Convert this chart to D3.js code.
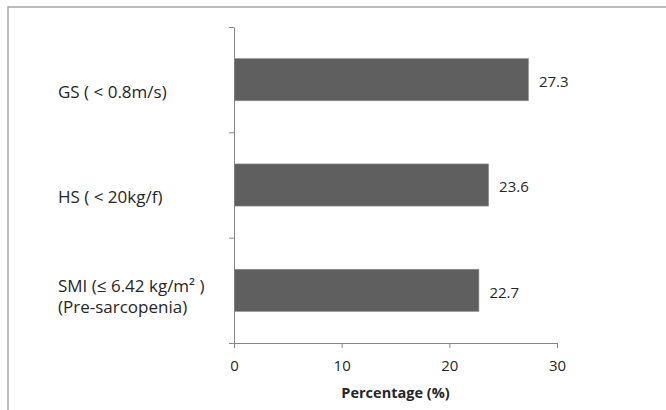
<!DOCTYPE html>
<html>
<head>
<meta charset="utf-8">
<script src="https://cdn.jsdelivr.net/npm/d3@7"></script>
<style>
	body { margin: 0; background: #fff; }
	svg { display: block; font-family: "Open Sans", "Liberation Sans", sans-serif; }
</style>
</head>
<body>
<div id="chart"></div>
<script>
const W = 666, H = 410;

// data
const categories = ["GS", "HS", "SMI"];
const catLines = [
	["GS ( < 0.8m/s)"],
	["HS ( < 20kg/f)"],
	["SMI (\u2264 6.42 kg/m\u00B2 )", "(Pre-sarcopenia)"]
];
const values = [27.3, 23.6, 22.7];
const xTicks = [0, 10, 20, 30];
const xTitle = "Percentage (%)";

const plot = { left: 234, right: 557, top: 27, bottom: 343 };
const fs = "15px";

const svg = d3.select("#chart").append("svg")
	.attr("width", W)
	.attr("height", H);

// outer frame (only top + left visible in the crop)
svg.append("path")
	.attr("d", `M8,${H} V7 H${W}`)
	.attr("fill", "none")
	.attr("stroke", "#a6a6a6")
	.attr("stroke-width", 1.5);

const x = d3.scaleLinear().domain([0, 30]).range([plot.left, plot.right]);

const y = d3.scaleBand()
	.domain(categories)
	.range([plot.top, plot.bottom])
	.paddingInner(0.6)
	.paddingOuter(0.3);

// tick marks sit on the category boundaries
const yEdge = d3.scaleLinear().domain([0, categories.length]).range([plot.top, plot.bottom]);

svg.append("g")
	.attr("transform", `translate(${plot.left},0)`)
	.call(d3.axisLeft(yEdge).tickValues(d3.range(categories.length + 1)).tickFormat("").tickSize(5).tickSizeOuter(0))
	.call(g => g.selectAll("line, path").attr("stroke", "#868686"));

svg.append("g")
	.attr("transform", `translate(0,${plot.bottom})`)
	.call(d3.axisBottom(x).tickValues(xTicks).tickSize(5).tickSizeOuter(0).tickPadding(12))
	.call(g => g.selectAll("line, path").attr("stroke", "#868686"))
	.call(g => g.selectAll("text")
		.attr("font-family", "Open Sans, sans-serif")
		.attr("font-size", fs)
		.attr("fill", "#262626"));

svg.selectAll(".bar")
	.data(values)
	.enter()
	.append("rect")
	.attr("class", "bar")
	.attr("x", x(0) + 0.5)
	.attr("y", (d, i) => y(categories[i]))
	.attr("width", d => x(d) - x(0))
	.attr("height", y.bandwidth())
	.attr("fill", "#5f5f5f")
	.attr("stroke", "#8a8a8a")
	.attr("stroke-width", 0.6);

svg.selectAll(".val")
	.data(values)
	.enter()
	.append("text")
	.attr("class", "val")
	.attr("x", d => x(d) + 11)
	.attr("y", (d, i) => y(categories[i]) + y.bandwidth() / 2 + 2)
	.attr("dy", "0.35em")
	.attr("font-size", fs)
	.attr("fill", "#262626")
	.text(d => d.toFixed(1));

// category labels, left aligned
const labels = svg.selectAll(".cat")
	.data(catLines)
	.enter()
	.append("text")
	.attr("class", "cat")
	.attr("x", 58)
	.attr("font-size", "17px")
	.attr("fill", "#262626");

labels.each(function(lines, i) {
	const cy = y(categories[i]) + y.bandwidth() / 2 + 12 - (lines.length - 1) * 16;
	d3.select(this).selectAll("tspan")
		.data(lines)
		.enter()
		.append("tspan")
		.attr("x", 58)
		.attr("y", (l, j) => cy + j * 21)
		.attr("dy", "0.35em")
		.text(l => l);
});

svg.append("text")
	.attr("x", (plot.left + plot.right) / 2)
	.attr("y", 393)
	.attr("text-anchor", "middle")
	.attr("dy", "0.35em")
	.attr("font-size", "14.5px")
	.attr("font-weight", "bold")
	.attr("fill", "#262626")
	.text(xTitle);
</script>
</body>
</html>
